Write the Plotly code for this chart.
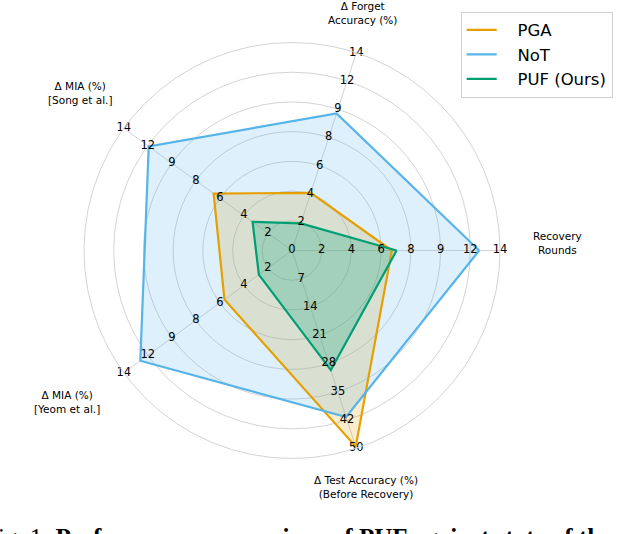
import plotly.graph_objects as go

# Axes (counter-clockwise from the right)
axis_names = ["Recovery<br>Rounds", "Δ Forget<br>Accuracy (%)", "Δ MIA (%)<br>[Song et al.]",
              "Δ MIA (%)<br>[Yeom et al.]", "Δ Test Accuracy (%)<br>(Before Recovery)"]
axis_angles = [0, 72, 144, 216, 288]

# Tick labels along each spoke (rings 1..7)
ticks_recovery = ["2", "4", "6", "8", "9", "12", "14"]
ticks_forget = ["2", "4", "6", "8", "9", "12", "14"]
ticks_song = ["2", "4", "6", "8", "9", "12", "14"]
ticks_yeom = ["2", "4", "6", "8", "9", "12", "14"]
ticks_test = ["7", "14", "21", "28", "35", "42", "50"]
ring_levels = [1, 2, 3, 4, 5, 6, 7]

# Normalised scores (ring units, 0-7), order follows axis_names
pga = [3.36, 2.04, 3.26, 2.81, 6.94]
nott = [6.30, 4.85, 5.96, 6.31, 5.89]
puf = [3.52, 0.96, 1.64, 1.38, 4.23]

series = [
    ("PGA", pga, "#E69F00", "rgba(230,159,0,0.20)"),
    ("NoT", nott, "#56B4E9", "rgba(86,180,233,0.20)"),
    ("PUF (Ours)", puf, "#009E73", "rgba(0,158,115,0.25)"),
]

fig = go.Figure()

# fills
for name, vals, col, fcol in series:
    fig.add_trace(go.Scatterpolar(
        r=vals + vals[:1], theta=axis_angles + axis_angles[:1], mode="lines",
        fill="toself", fillcolor=fcol, line=dict(color=col, width=0),
        showlegend=False, hoverinfo="skip"))
# outlines
for name, vals, col, fcol in series:
    fig.add_trace(go.Scatterpolar(
        r=vals + vals[:1], theta=axis_angles + axis_angles[:1], mode="lines",
        name="\u00a0\u00a0\u00a0" + name, line=dict(color=col, width=2.2)))

# tick labels
for ang, labs in zip(axis_angles, [ticks_recovery, ticks_forget, ticks_song, ticks_yeom, ticks_test]):
    fig.add_trace(go.Scatterpolar(
        r=ring_levels, theta=[ang] * len(ring_levels), mode="text", text=labs,
        textposition="middle center", textfont=dict(size=11.5, color="black", family="DejaVu Sans"),
        showlegend=False, hoverinfo="skip", cliponaxis=False))
fig.add_trace(go.Scatterpolar(
    r=[0], theta=[0], mode="text", text=["0"], textposition="middle center",
    textfont=dict(size=11.5, color="black", family="DejaVu Sans"),
    showlegend=False, hoverinfo="skip", cliponaxis=False))

W, H = 630, 534
cx, cy, R = 292, 250.5, 208

title_pos = [(557, 243), (362, 13), (81, 93), (67, 402), (366, 487)]
annotations = []
for name, (px, py) in zip(axis_names, title_pos):
    annotations.append(dict(
        x=px / W, y=1 - py / H, xref="paper", yref="paper", text=name, showarrow=False,
        xanchor="center", yanchor="middle", align="center",
        font=dict(size=10.5, color="black", family="DejaVu Sans")))

annotations.append(dict(
    x=-18.5 / W, y=1 - 521.5 / H, xref="paper", yref="paper",
    text="Fig. 1: <b>Performance comparison of PUF against state of the art</b>",
    showarrow=False, xanchor="left", yanchor="top",
    font=dict(size=25, color="black", family="Liberation Serif")))

fig.update_layout(
    width=W, height=H, margin=dict(l=0, r=0, t=0, b=0),
    paper_bgcolor="white", plot_bgcolor="white",
    font=dict(family="DejaVu Sans", color="black"),
    polar=dict(
        domain=dict(x=[(cx - R) / W, (cx + R) / W], y=[1 - (cy + R) / H, 1 - (cy - R) / H]),
        bgcolor="white",
        angularaxis=dict(thetaunit="degrees", direction="counterclockwise", rotation=0,
                         tickmode="array", tickvals=axis_angles, showticklabels=False,
                         ticks="", gridcolor="#d4d4d4", gridwidth=1,
                         showline=True, linecolor="#d4d4d4", linewidth=1),
        radialaxis=dict(range=[0, 7], tickmode="array", tickvals=ring_levels,
                        showticklabels=False, ticks="", showline=False,
                        gridcolor="#d4d4d4", gridwidth=1),
    ),
    legend=dict(x=612.7 / W, y=1 - 11.7 / H, xanchor="right", yanchor="top",
                bgcolor="rgba(255,255,255,0.85)", bordercolor="#d0d0d0", borderwidth=1,
                font=dict(size=16.5, color="black", family="DejaVu Sans"),
                itemwidth=30),
    annotations=annotations,
)

fig.write_html("out.html", config={"displayModeBar": False},
               post_script="document.body.style.margin='0';")
